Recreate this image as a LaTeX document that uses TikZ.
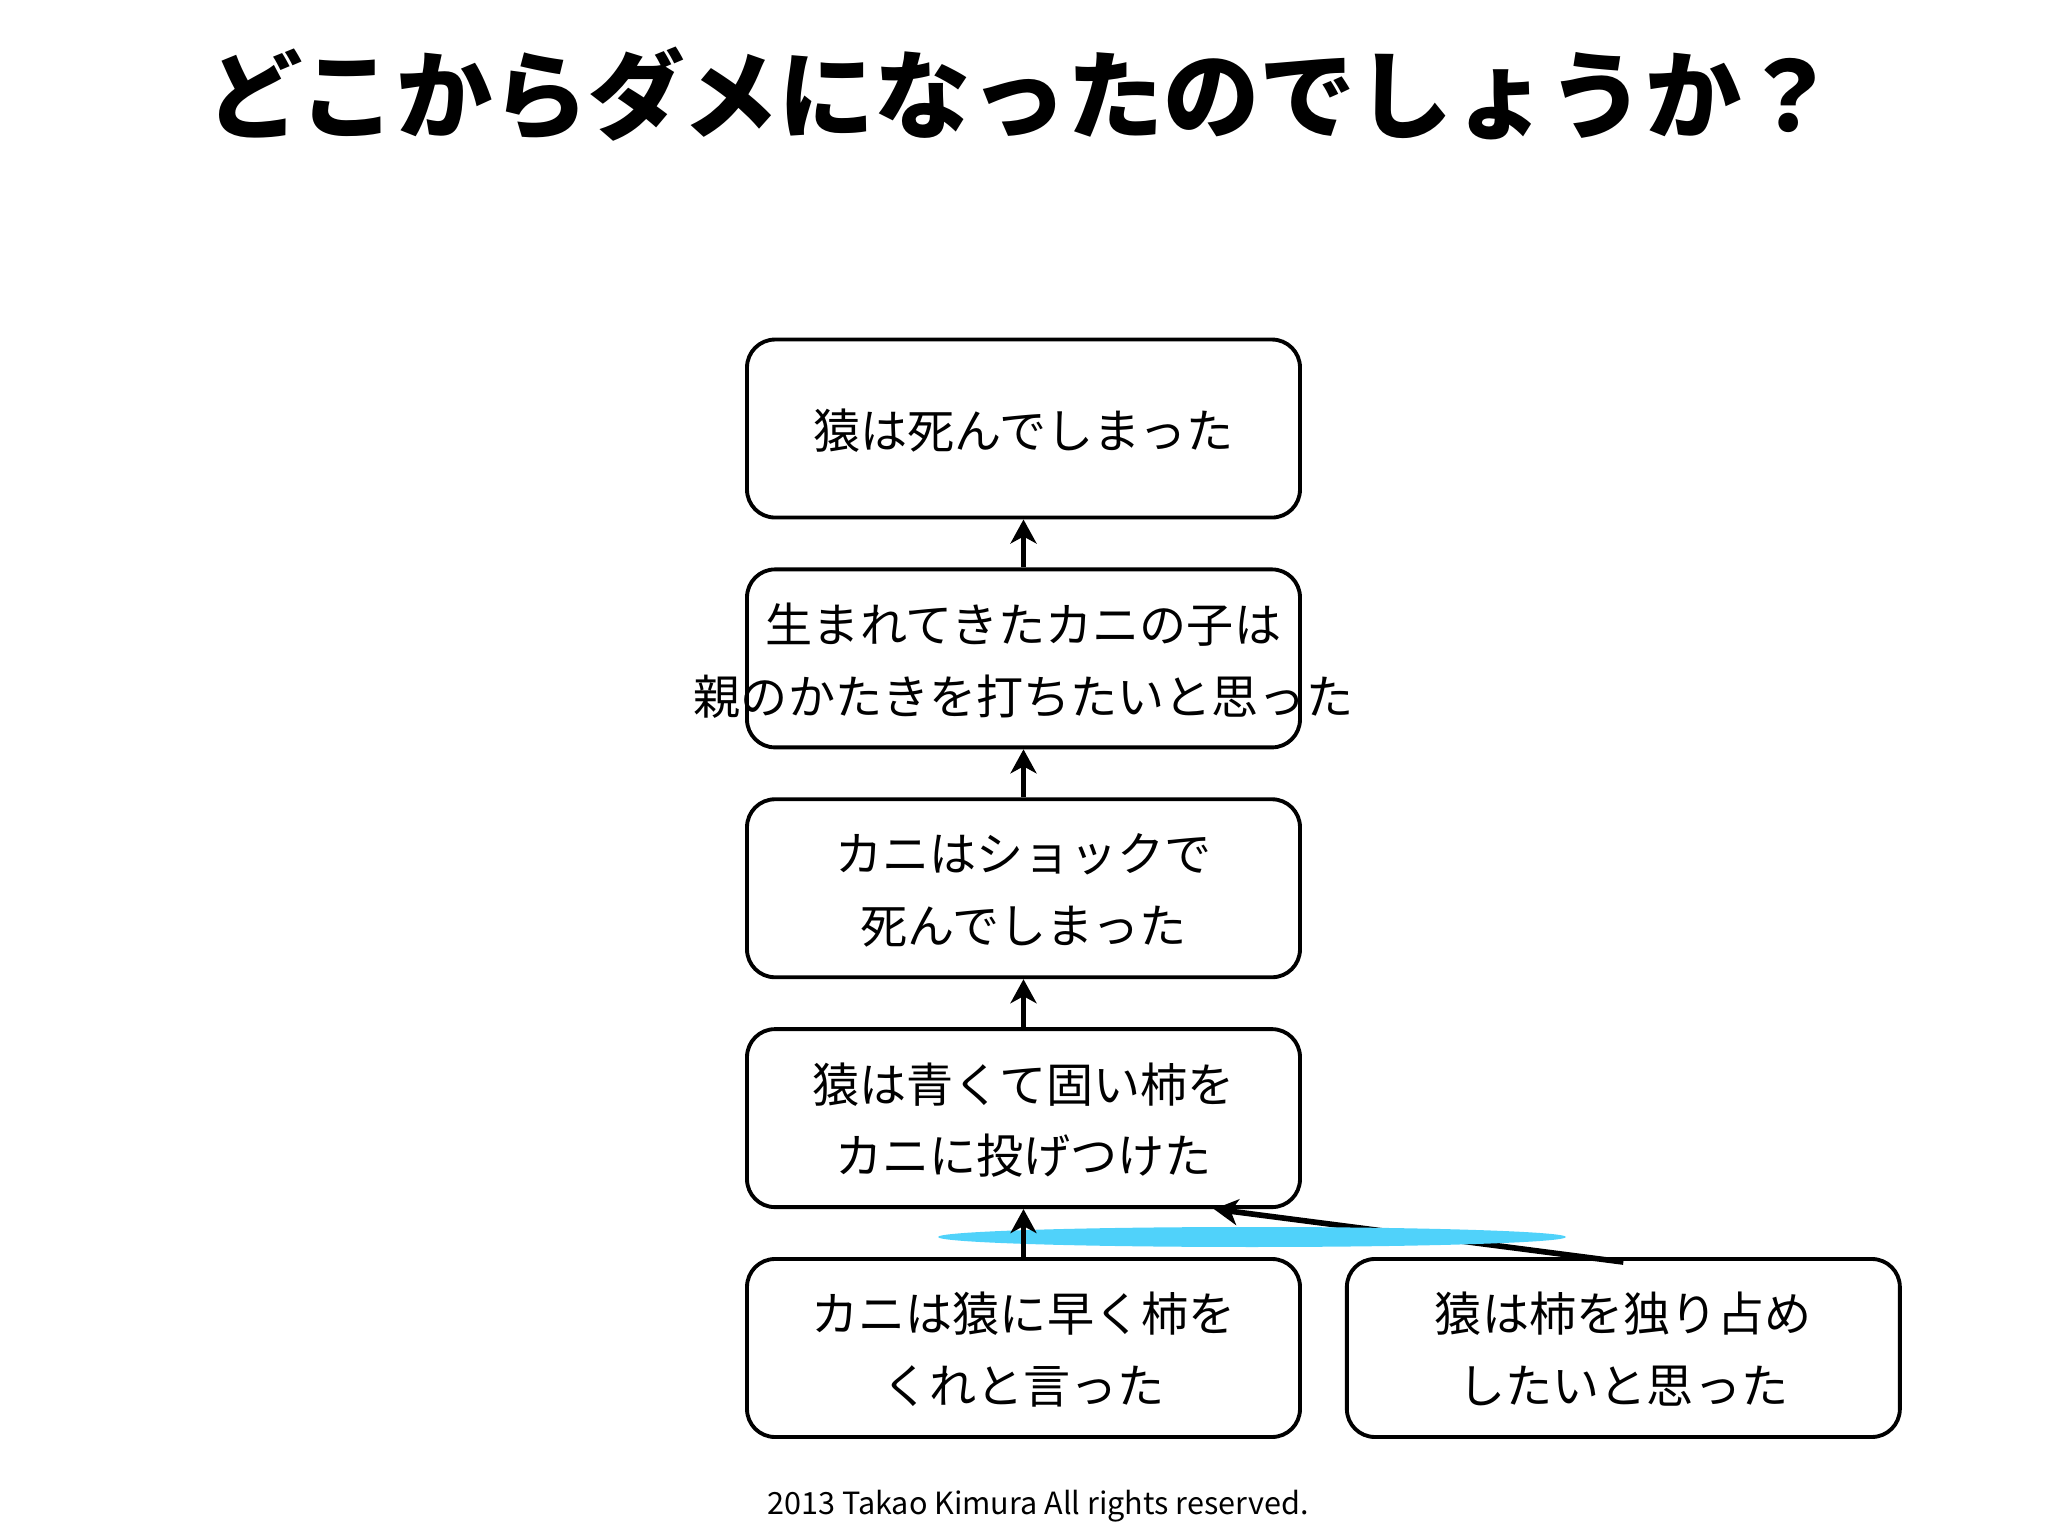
\documentclass[tikz,border=0pt]{standalone}
\usepackage{fontspec}
\setmainfont{Noto Sans CJK JP}
\usepackage{tikz}
\usetikzlibrary{positioning,arrows.meta}
\definecolor{marker}{RGB}{80,210,250}

\begin{document}
\begin{tikzpicture}[
    event/.style = {shape=rectangle, rounded corners=0.28cm, draw, line width=1.1pt, minimum width=5.53cm, minimum height=1.78cm, inner sep=0pt, align=center, text depth=-0.06cm, font=\fontsize{13.4pt}{20.4pt}\selectfont},
    cause/.style = {-{Stealth[length=0.24cm,width=0.26cm,inset=0.07cm]}, line width=1.45pt},
    title/.style = {font=\fontsize{27.4pt}{30pt}\selectfont\bfseries},
    credit/.style = {font=\fontsize{8.7pt}{10pt}\selectfont}
  ]
  \useasboundingbox (0,0) rectangle (20.48,-15.36);
  \node[title] (title) at (10.22,-0.94) {どこからダメになったのでしょうか？};
  \node[event] (b5) at (10.235,-13.48) {カニは猿に早く柿を\\くれと言った};
  \node[event, right=0.43cm of b5] (r5) {猿は柿を独り占め\\したいと思った};
  \node[event, above=0.48cm of b5] (b4) {猿は青くて固い柿を\\カニに投げつけた};
  \node[event, above=0.48cm of b4] (b3) {カニはショックで\\死んでしまった};
  \node[event, above=0.48cm of b3] (b2) {\makebox[0pt]{生まれてきたカニの子は}\\\makebox[0pt]{親のかたきを打ちたいと思った}};
  \node[event, above=0.48cm of b2] (b1) {猿は死んでしまった};
  \coordinate (hit) at ([xshift=-0.88cm]b4.south east);
  \coordinate (tail) at ([yshift=-0.05cm]r5.north);
  \draw[cause, line width=1.6pt] (tail) -- (hit);
  \fill[marker] (12.52,-12.37) ellipse (3.14 and 0.1);
  \foreach \lo/\hi in {b5/b4, b4/b3, b3/b2, b2/b1}
    \draw[cause] (\lo.north) -- (\hi.south);
  \node[credit] (credit) at (10.38,-15.06) {2013 Takao Kimura All rights reserved.};
\end{tikzpicture}
\end{document}
